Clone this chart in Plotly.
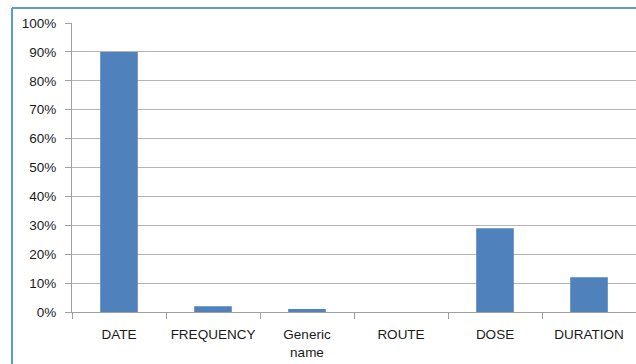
import plotly.graph_objects as go

categories = ["DATE", "FREQUENCY", "Generic<br>name", "ROUTE", "DOSE", "DURATION"]
shares = [0.90, 0.02, 0.01, 0.0, 0.29, 0.12]

fig = go.Figure(
    go.Bar(
        x=categories,
        y=shares,
        marker=dict(color="#4F81BD", line=dict(width=0)),
        width=0.4,
    )
)

font = dict(family="Liberation Sans, Arial", size=13.5, color="#1a1a1a")

fig.update_layout(
    width=636,
    height=364,
    margin=dict(l=72, r=0, t=23, b=52),
    paper_bgcolor="white",
    plot_bgcolor="white",
    showlegend=False,
    font=font,
    bargap=0.6,
)

fig.update_xaxes(
    type="category",
    automargin=False,
    tickangle=0,
    showline=True,
    linecolor="#a0a0a0",
    linewidth=1,
    ticks="outside",
    tickson="boundaries",
    ticklen=6,
    tickcolor="#a0a0a0",
    showgrid=False,
    tickfont=font,
    ticklabelstandoff=10,
)

fig.update_yaxes(
    automargin=False,
    range=[0, 1.0],
    dtick=0.1,
    tickformat=".0%",
    showgrid=True,
    gridcolor="#b4b4b4",
    gridwidth=1,
    showline=True,
    linecolor="#a0a0a0",
    linewidth=1,
    ticks="outside",
    ticklen=6,
    tickcolor="#a0a0a0",
    zeroline=False,
    tickfont=font,
    ticklabelstandoff=6,
)

# Chart frame edges (left and top) in light blue
frame_x = (12 - 72) / 564
frame_top = (312 - 8) / 289
fig.add_shape(type="line", xref="paper", yref="paper",
              x0=frame_x, x1=frame_x, y0=frame_top, y1=-0.3,
              line=dict(color="#5B9BD5", width=2))
fig.add_shape(type="line", xref="paper", yref="paper",
              x0=frame_x, x1=1.05, y0=frame_top, y1=frame_top,
              line=dict(color="#5B9BD5", width=2))

fig.write_html("out.html")
